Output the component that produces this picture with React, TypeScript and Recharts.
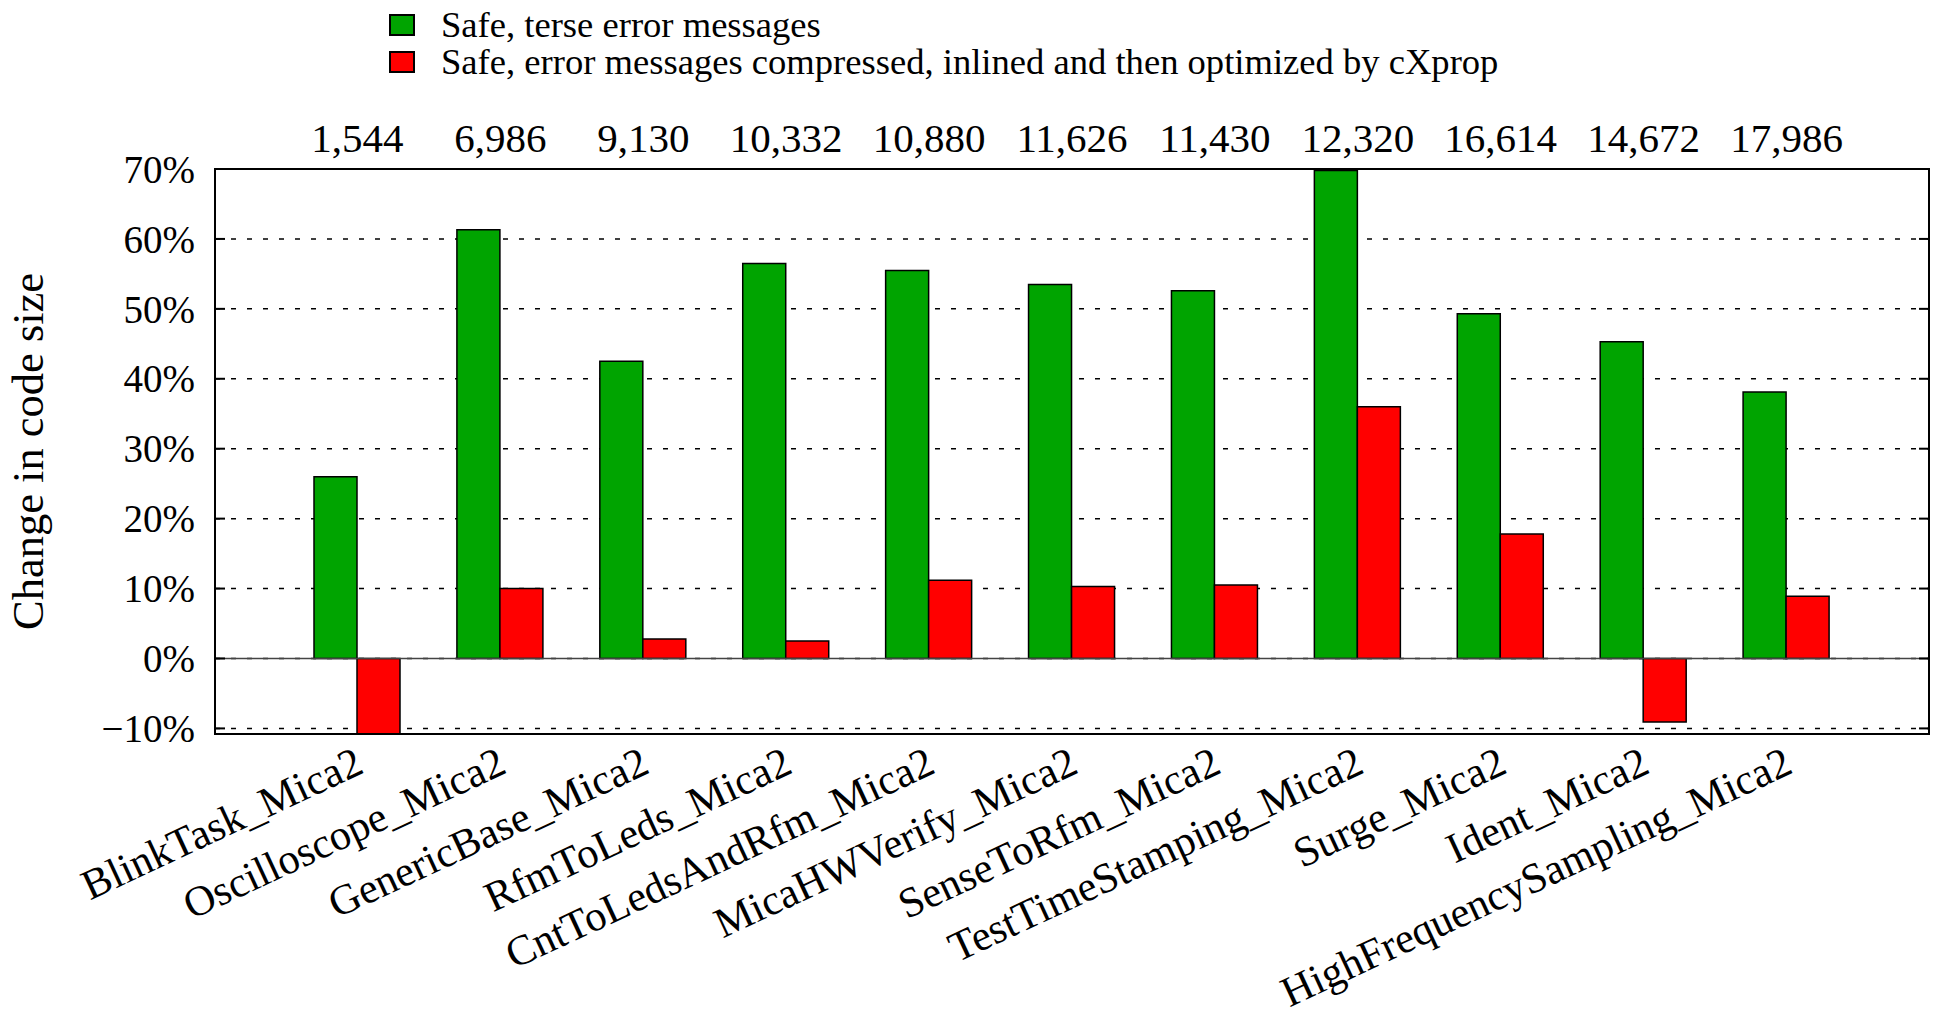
import { Bar, BarChart, CartesianGrid, ReferenceLine, XAxis, YAxis } from "recharts";

const categories = [
  "BlinkTask_Mica2",
  "Oscilloscope_Mica2",
  "GenericBase_Mica2",
  "RfmToLeds_Mica2",
  "CntToLedsAndRfm_Mica2",
  "MicaHWVerify_Mica2",
  "SenseToRfm_Mica2",
  "TestTimeStamping_Mica2",
  "Surge_Mica2",
  "Ident_Mica2",
  "HighFrequencySampling_Mica2",
];

// baseline code size (bytes), shown along the top
const baseSizes = [
  "1,544", "6,986", "9,130", "10,332", "10,880", "11,626",
  "11,430", "12,320", "16,614", "14,672", "17,986",
];

// % change in code size
const terse = [26.0, 61.3, 42.5, 56.5, 55.5, 53.5, 52.6, 69.8, 49.3, 45.3, 38.1];
const compressed = [-11.0, 10.0, 2.8, 2.5, 11.2, 10.3, 10.5, 36.0, 17.8, -9.1, 8.9];

const yTicks = [-10, 0, 10, 20, 30, 40, 50, 60, 70];

const seriesNames = [
  "Safe, terse error messages",
  "Safe, error messages compressed, inlined and then optimized by cXprop",
];
const seriesColors = ["#00a400", "#ff0000"];

const data = categories.map((name, i) => ({
  name,
  size: baseSizes[i],
  terse: terse[i],
  compressed: compressed[i],
}));

const W = 1938;
const H = 1021;
const PLOT_LEFT = 215;
const PLOT_TOP = 169;
const PLOT_RIGHT = 1929;
const PLOT_BOTTOM = 734;
const FONT = '"Liberation Serif", "Times New Roman", serif';

const fmtPct = (v: number) => (v < 0 ? `\u2212${Math.abs(v)}%` : `${v}%`);

function YTick({ y, payload }: any) {
  return (
    <g>
      <text
        x={PLOT_LEFT - 20}
        y={y}
        dy="0.35em"
        textAnchor="end"
        fontSize={39}
        fontFamily={FONT}
        fill="#000"
      >
        {fmtPct(payload.value)}
      </text>
      <line x1={PLOT_LEFT} x2={PLOT_LEFT + 10} y1={y} y2={y} stroke="#000" strokeWidth={2} />
      <line x1={PLOT_RIGHT - 10} x2={PLOT_RIGHT} y1={y} y2={y} stroke="#000" strokeWidth={2} />
    </g>
  );
}

function XTick({ x, payload }: any) {
  return (
    <text
      transform={`translate(${x + 8},${PLOT_BOTTOM + 38}) rotate(-25)`}
      textAnchor="end"
      fontSize={42.5}
      fontFamily={FONT}
      fill="#000"
    >
      {payload.value}
    </text>
  );
}

function TopTick({ x, payload }: any) {
  return (
    <text
      x={x}
      y={PLOT_TOP - 17}
      textAnchor="middle"
      fontSize={41}
      fontFamily={FONT}
      fill="#000"
    >
      {payload.value}
    </text>
  );
}

function YTitle({ viewBox }: any) {
  const cy = viewBox ? viewBox.y + viewBox.height / 2 : (PLOT_TOP + PLOT_BOTTOM) / 2;
  return (
    <text
      transform={`translate(28,${cy}) rotate(-90)`}
      textAnchor="middle"
      dominantBaseline="central"
      fontSize={44.5}
      fontFamily={FONT}
      fill="#000"
    >
      Change in code size
    </text>
  );
}

function Legend() {
  return (
    <div
      style={{
        position: "absolute",
        left: 389,
        top: 6,
        fontFamily: FONT,
        fontSize: 36.6,
        lineHeight: "37px",
        color: "#000",
      }}
    >
      {seriesNames.map((n, i) => (
        <div key={n} style={{ display: "flex", alignItems: "center", height: 37 }}>
          <span
            style={{
              width: 26,
              height: 22,
              background: seriesColors[i],
              border: "2px solid #000",
              boxSizing: "border-box",
              marginRight: 26,
              flexShrink: 0,
            }}
          />
          <span style={{ whiteSpace: "nowrap" }}>{n}</span>
        </div>
      ))}
    </div>
  );
}

export default function App() {
  return (
    <div style={{ position: "absolute", left: 0, top: 0, width: W, height: H, background: "#fff" }}>
      <BarChart
        width={W}
        height={H}
        data={data}
        margin={{ top: 0, right: W - PLOT_RIGHT, bottom: 0, left: 0 }}
        barGap={0}
        barSize={43}
      >
        <CartesianGrid
          vertical={false}
          stroke="#000"
          strokeWidth={1.5}
          strokeDasharray="5 11"
        />
        <XAxis
          dataKey="name"
          height={H - PLOT_BOTTOM}
          padding={{ left: 71, right: 71 }}
          axisLine={false}
          tickLine={false}
          interval={0}
          tick={<XTick />}
        />
        <XAxis
          xAxisId="top"
          orientation="top"
          dataKey="size"
          height={PLOT_TOP}
          padding={{ left: 71, right: 71 }}
          axisLine={false}
          tickLine={false}
          interval={0}
          tick={<TopTick />}
        />
        <YAxis
          width={PLOT_LEFT}
          domain={[-10.8, 70]}
          ticks={yTicks}
          allowDataOverflow
          axisLine={false}
          tickLine={false}
          tick={<YTick />}
          label={<YTitle />}
        />
        <ReferenceLine y={0} stroke="#444" strokeWidth={1.5} />
        <Bar
          dataKey="terse"
          name={seriesNames[0]}
          fill={seriesColors[0]}
          stroke="#000"
          strokeWidth={1.5}
          isAnimationActive={false}
        />
        <Bar
          dataKey="compressed"
          name={seriesNames[1]}
          fill={seriesColors[1]}
          stroke="#000"
          strokeWidth={1.5}
          isAnimationActive={false}
        />
      </BarChart>
      <div
        style={{
          position: "absolute",
          left: PLOT_LEFT - 1,
          top: PLOT_TOP - 1,
          width: PLOT_RIGHT - PLOT_LEFT + 2,
          height: PLOT_BOTTOM - PLOT_TOP + 2,
          border: "2px solid #000",
          boxSizing: "border-box",
          pointerEvents: "none",
        }}
      />
      <Legend />
    </div>
  );
}
